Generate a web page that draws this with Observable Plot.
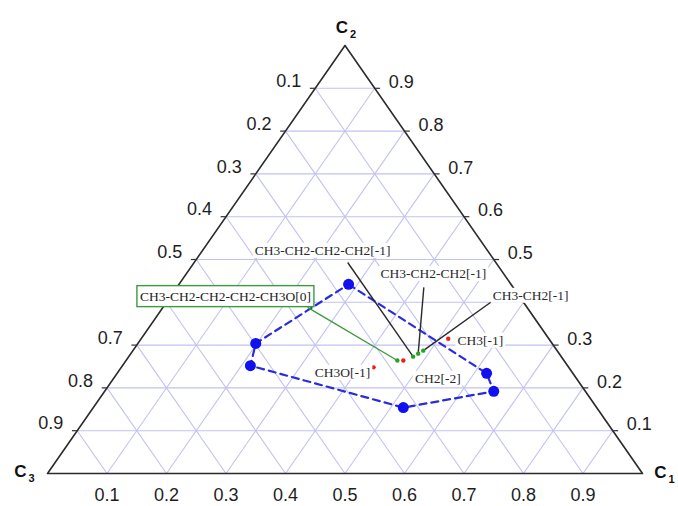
<!DOCTYPE html>
<html>
<head>
<meta charset="utf-8">
<script src="https://cdn.jsdelivr.net/npm/d3@7"></script>
<script src="https://cdn.jsdelivr.net/npm/@observablehq/plot@0.6"></script>
<style>
  html, body { margin: 0; padding: 0; background: #fff; }
  #chart svg { display: block; }
</style>
</head>
<body>
<div id="chart"></div>
<script>
// ---------- data (ternary coordinates: c1, c2; c3 = 1 - c1 - c2) ----------
const gridValues = [0.1, 0.2, 0.3, 0.4, 0.5, 0.6, 0.7, 0.8, 0.9];
const bottomTickLabels = ["0.1", "0.2", "0.3", "0.4", "0.5", "0.6", "0.7", "0.8", "0.9"];
const leftTickValues = [0.1, 0.2, 0.3, 0.4, 0.5, 0.7, 0.8, 0.9];          // C3 values (0.6 hidden by label)
const leftTickLabels = ["0.1", "0.2", "0.3", "0.4", "0.5", "0.7", "0.8", "0.9"];
const rightTickValues = [0.1, 0.2, 0.3, 0.5, 0.6, 0.7, 0.8, 0.9];         // C2 values (0.4 hidden by label)
const rightTickLabels = ["0.1", "0.2", "0.3", "0.5", "0.6", "0.7", "0.8", "0.9"];
const vertexLetters = ["C", "C", "C"];
const vertexSubs = ["1", "2", "3"];

// blue dashed region (closed polygon)
const regionC1 = [0.285, 0.621, 0.654, 0.521, 0.215, 0.198];
const regionC2 = [0.442, 0.234, 0.192, 0.154, 0.252, 0.304];

// species points
const speciesNames = ["CH3-CH2-CH2-CH2-CH3O[0]", "CH3-CH2-CH2-CH2[-1]", "CH3-CH2-CH2[-1]", "CH3-CH2[-1]", "CH3[-1]", "CH2[-2]", "CH3O[-1]"];
const speciesGroup = ["neutral", "anion", "anion", "anion", "radical", "radical", "radical"];
const speciesC1 = [0.456, 0.478, 0.483, 0.488, 0.516, 0.466, 0.424];
const speciesC2 = [0.264, 0.273, 0.280, 0.287, 0.315, 0.264, 0.248];
// label anchor positions (ternary) and leader-line start points
const labelC1 = [0.092, 0.202, 0.415, 0.604, 0.572, 0.545, 0.378];
const labelC2 = [0.414, 0.521, 0.467, 0.416, 0.311, 0.222, 0.236];
const leaderC1 = [0.243, 0.258, 0.415, 0.545, null, null, null];
const leaderC2 = [0.388, 0.493, 0.435, 0.400, null, null, null];

// ---------- projection helpers ----------
const px = (c1, c2) => c1 + c2 / 2;
const py = (c1, c2) => c2;

// grid segments
const grid = [];
for (const v of gridValues) {
  grid.push({x1: px(v, 0), y1: py(v, 0), x2: px(v, 1 - v), y2: py(v, 1 - v)});           // constant C1
  grid.push({x1: px(0, v), y1: py(0, v), x2: px(1 - v, v), y2: py(1 - v, v)});           // constant C2
  grid.push({x1: px(1 - v, 0), y1: py(1 - v, 0), x2: px(0, 1 - v), y2: py(0, 1 - v)});   // constant C3
}

const tri = [[1, 0], [0, 1], [0, 0], [1, 0]].map(([c1, c2]) => ({x: px(c1, c2), y: py(c1, c2)}));
const vertices = [[1, 0], [0, 1], [0, 0]].map(([c1, c2], i) => ({x: px(c1, c2), y: py(c1, c2), letter: vertexLetters[i], sub: vertexSubs[i]}));

const bottomTicks = gridValues.map((v, i) => ({x: px(v, 0), y: py(v, 0), label: bottomTickLabels[i]}));
const leftTicks = leftTickValues.map((v, i) => ({x: px(0, 1 - v), y: py(0, 1 - v), label: leftTickLabels[i]}));
const rightTicks = rightTickValues.map((v, i) => ({x: px(1 - v, v), y: py(1 - v, v), label: rightTickLabels[i]}));
const tickLen = 0.009;
const tickMarks = [
  ...leftTicks.map(d => ({x1: d.x, y1: d.y, x2: d.x - tickLen, y2: d.y})),
  ...rightTicks.map(d => ({x1: d.x, y1: d.y, x2: d.x + tickLen, y2: d.y}))
];

const region = regionC1.map((c1, i) => ({x: px(c1, regionC2[i]), y: py(c1, regionC2[i])}));
const regionClosed = [...region, region[0]];

const species = speciesNames.map((name, i) => ({
  name, group: speciesGroup[i],
  x: px(speciesC1[i], speciesC2[i]), y: py(speciesC1[i], speciesC2[i]),
  lx: px(labelC1[i], labelC2[i]), ly: py(labelC1[i], labelC2[i]),
  sx: leaderC1[i] == null ? null : px(leaderC1[i], leaderC2[i]),
  sy: leaderC1[i] == null ? null : py(leaderC1[i], leaderC2[i])
}));
const leaders = species.filter(d => d.sx != null);
const boxed = species.filter(d => d.group === "neutral");
const plain = species.filter(d => d.group !== "neutral");
const dotColor = {neutral: "#22a322", anion: "#22a322", radical: "#ee1c1c"};

const sans = "'Liberation Sans', Arial, Helvetica, sans-serif";
const serif = "'Liberation Serif', 'Times New Roman', serif";

const plot = Plot.plot({
  width: 678,
  height: 506,
  marginLeft: 47,
  marginRight: 36,
  marginTop: 45,
  marginBottom: 33,
  x: {domain: [0, 1], axis: null},
  y: {domain: [0, 1], axis: null},
  style: {background: "#fff", overflow: "visible"},
  marks: [
    Plot.link(grid, {x1: "x1", y1: "y1", x2: "x2", y2: "y2", stroke: "#c2c2f0", strokeWidth: 1.1}),
    Plot.line(tri, {x: "x", y: "y", stroke: "#2b2b2b", strokeWidth: 1.6}),
    Plot.link(tickMarks, {x1: "x1", y1: "y1", x2: "x2", y2: "y2", stroke: "#333", strokeWidth: 1.2}),
    Plot.text(bottomTicks, {x: "x", y: "y", text: "label", dy: 22, textAnchor: "middle", fontSize: 18, fontFamily: sans, fill: "#1e1e1e"}),
    Plot.text(leftTicks, {x: "x", y: "y", text: "label", dx: -14, dy: -7, textAnchor: "end", fontSize: 18, fontFamily: sans, fill: "#1e1e1e"}),
    Plot.text(rightTicks, {x: "x", y: "y", text: "label", dx: 14, dy: -6, textAnchor: "start", fontSize: 18, fontFamily: sans, fill: "#1e1e1e"}),
    // vertex labels
    Plot.text([vertices[1]], {x: "x", y: "y", text: "letter", dx: -3, dy: -18, fontSize: 17, fontWeight: "bold", fontFamily: sans, fill: "#111"}),
    Plot.text([vertices[1]], {x: "x", y: "y", text: "sub", dx: 8, dy: -11, fontSize: 11, fontWeight: "bold", fontFamily: sans, fill: "#111"}),
    Plot.text([vertices[2]], {x: "x", y: "y", text: "letter", dx: -27, dy: -2, fontSize: 17, fontWeight: "bold", fontFamily: sans, fill: "#111"}),
    Plot.text([vertices[2]], {x: "x", y: "y", text: "sub", dx: -16, dy: 5, fontSize: 11, fontWeight: "bold", fontFamily: sans, fill: "#111"}),
    Plot.text([vertices[0]], {x: "x", y: "y", text: "letter", dx: 18, dy: -1, fontSize: 17, fontWeight: "bold", fontFamily: sans, fill: "#111"}),
    Plot.text([vertices[0]], {x: "x", y: "y", text: "sub", dx: 29, dy: 6, fontSize: 11, fontWeight: "bold", fontFamily: sans, fill: "#111"}),
    // region
    Plot.line(regionClosed, {x: "x", y: "y", stroke: "#2a2ae0", strokeWidth: 2.2, strokeDasharray: "7,5"}),
    Plot.dot(region, {x: "x", y: "y", r: 5.5, fill: "#1010f0", stroke: null}),
    // leaders
    Plot.link(leaders, {x1: "sx", y1: "sy", x2: "x", y2: "y", stroke: d => d.group === "neutral" ? "#3c9c3c" : "#2a2a2a", strokeWidth: 1.4}),
    // species dots
    Plot.dot(species, {x: "x", y: "y", r: 2.2, fill: d => dotColor[d.group], stroke: null}),
    // labels
    Plot.text(plain, {x: "lx", y: "ly", text: "name", fontSize: 13.5, fontFamily: serif, fill: "#2a2a2a", textAnchor: "middle"}),
    Plot.text(boxed, {x: "lx", y: "ly", text: "name", fontSize: 13.5, fontFamily: serif, fill: "#1e1e1e", textAnchor: "middle"})
  ]
});

document.getElementById("chart").appendChild(plot);

// white backgrounds behind annotation labels (and a green frame for the boxed one)
const boxedNames = new Set(boxed.map(d => d.name));
const plainNames = new Set(plain.map(d => d.name));
d3.select(plot).selectAll("text").each(function () {
  const txt = this.textContent;
  const isBoxed = boxedNames.has(txt);
  if (!isBoxed && !plainNames.has(txt)) return;
  const b = this.getBBox();
  const padX = isBoxed ? 3 : 2, padY = isBoxed ? 3 : 0;
  const rect = document.createElementNS("http://www.w3.org/2000/svg", "rect");
  rect.setAttribute("x", b.x - padX);
  rect.setAttribute("y", b.y - padY);
  rect.setAttribute("width", b.width + 2 * padX);
  rect.setAttribute("height", b.height + 2 * padY);
  rect.setAttribute("fill", "#fff");
  if (isBoxed) { rect.setAttribute("stroke", "#3c9c3c"); rect.setAttribute("stroke-width", 1.4); }
  const t = this.getAttribute("transform");
  if (t) rect.setAttribute("transform", t);
  this.parentNode.insertBefore(rect, this);
});
</script>
</body>
</html>
